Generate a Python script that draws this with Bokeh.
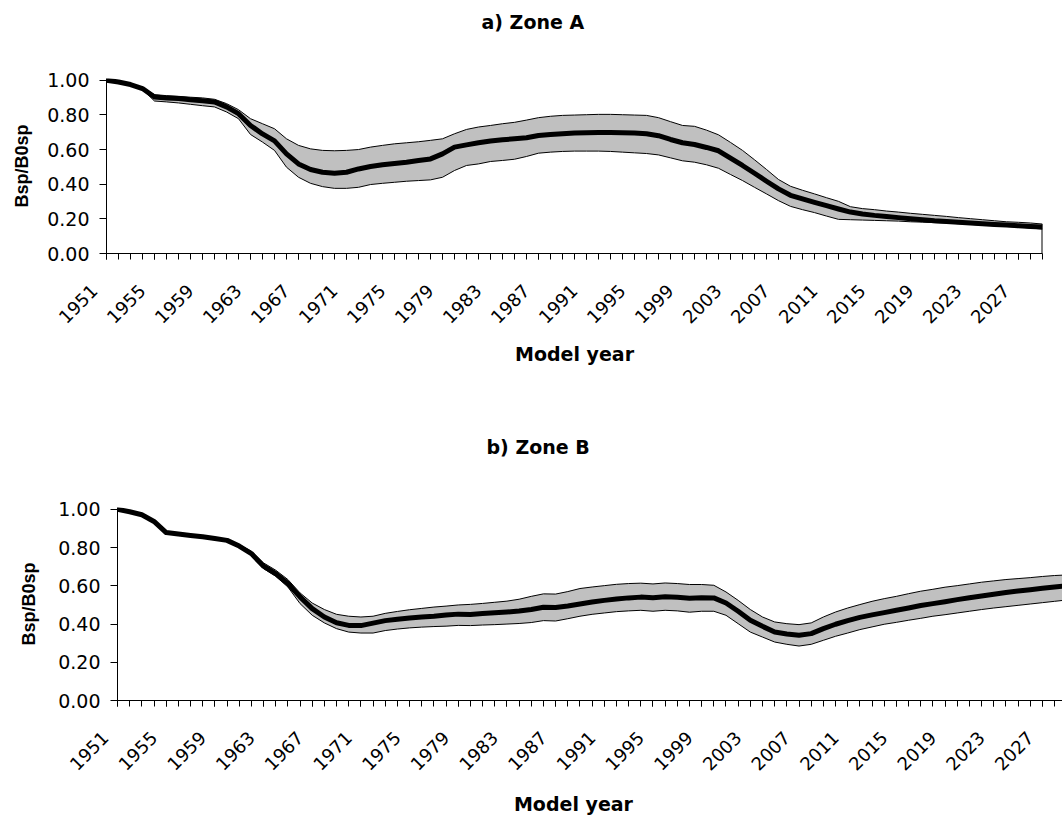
import math
from bokeh.plotting import figure
from bokeh.layouts import column
from bokeh.models import FixedTicker, PrintfTickFormatter, Range1d, LinearAxis
from bokeh.embed import file_html
from bokeh.resources import INLINE

years = list(range(1951, 2030))
tick_years = [1951, 1955, 1959, 1963, 1967, 1971, 1975, 1979, 1983, 1987,
              1991, 1995, 1999, 2003, 2007, 2011, 2015, 2019, 2023, 2027]
y_ticks = [0.0, 0.2, 0.4, 0.6, 0.8, 1.0]

# Zone A (1951-2029)
a_median = [1.000, 0.990, 0.975, 0.952, 0.903, 0.898, 0.894, 0.888, 0.882, 0.875,
            0.846, 0.807, 0.739, 0.690, 0.650, 0.575, 0.517, 0.485, 0.469, 0.463,
            0.469, 0.488, 0.502, 0.512, 0.519, 0.527, 0.537, 0.546, 0.575, 0.614,
            0.627, 0.639, 0.649, 0.656, 0.662, 0.668, 0.681, 0.687, 0.691, 0.695,
            0.697, 0.699, 0.699, 0.697, 0.695, 0.691, 0.680, 0.658, 0.639, 0.629,
            0.612, 0.593, 0.550, 0.508, 0.463, 0.417, 0.373, 0.336, 0.315, 0.295,
            0.276, 0.257, 0.239, 0.228, 0.220, 0.214, 0.207, 0.201, 0.195, 0.189,
            0.185, 0.180, 0.176, 0.172, 0.168, 0.164, 0.160, 0.156, 0.153]
a_upper = [1.000, 0.994, 0.980, 0.957, 0.917, 0.911, 0.907, 0.902, 0.898, 0.890,
           0.865, 0.830, 0.778, 0.749, 0.720, 0.662, 0.624, 0.604, 0.595, 0.593,
           0.595, 0.600, 0.614, 0.624, 0.633, 0.639, 0.645, 0.653, 0.662, 0.691,
           0.716, 0.730, 0.739, 0.749, 0.757, 0.770, 0.784, 0.792, 0.797, 0.799,
           0.801, 0.803, 0.803, 0.801, 0.799, 0.797, 0.784, 0.761, 0.739, 0.734,
           0.712, 0.685, 0.641, 0.595, 0.541, 0.485, 0.427, 0.388, 0.365, 0.344,
           0.322, 0.301, 0.270, 0.259, 0.253, 0.245, 0.239, 0.232, 0.226, 0.220,
           0.214, 0.207, 0.201, 0.195, 0.189, 0.183, 0.180, 0.176, 0.170]
a_lower = [1.000, 0.987, 0.969, 0.946, 0.880, 0.875, 0.869, 0.861, 0.853, 0.846,
           0.817, 0.778, 0.687, 0.643, 0.595, 0.498, 0.440, 0.405, 0.386, 0.376,
           0.376, 0.382, 0.398, 0.405, 0.411, 0.417, 0.421, 0.425, 0.440, 0.479,
           0.508, 0.517, 0.531, 0.537, 0.544, 0.560, 0.579, 0.585, 0.589, 0.591,
           0.591, 0.591, 0.589, 0.585, 0.581, 0.577, 0.569, 0.552, 0.535, 0.527,
           0.512, 0.492, 0.456, 0.421, 0.382, 0.344, 0.305, 0.272, 0.253, 0.236,
           0.216, 0.197, 0.195, 0.193, 0.191, 0.189, 0.187, 0.183, 0.181, 0.178,
           0.176, 0.172, 0.168, 0.164, 0.160, 0.156, 0.153, 0.147, 0.141]

# Zone B (1951-2029)
b_median = [1.000, 0.988, 0.972, 0.937, 0.879, 0.871, 0.864, 0.857, 0.848, 0.838,
            0.808, 0.769, 0.703, 0.664, 0.612, 0.542, 0.481, 0.437, 0.407, 0.393,
            0.392, 0.405, 0.418, 0.425, 0.432, 0.437, 0.441, 0.447, 0.452, 0.450,
            0.455, 0.459, 0.463, 0.468, 0.476, 0.488, 0.487, 0.495, 0.505, 0.515,
            0.524, 0.531, 0.537, 0.541, 0.538, 0.543, 0.540, 0.535, 0.538, 0.537,
            0.510, 0.467, 0.420, 0.388, 0.358, 0.348, 0.341, 0.350, 0.376, 0.399,
            0.418, 0.435, 0.448, 0.460, 0.472, 0.484, 0.497, 0.507, 0.517, 0.528,
            0.538, 0.547, 0.556, 0.565, 0.573, 0.580, 0.587, 0.594, 0.601]
b_upper = [1.000, 0.991, 0.976, 0.942, 0.884, 0.876, 0.869, 0.862, 0.853, 0.843,
           0.816, 0.781, 0.720, 0.682, 0.633, 0.563, 0.510, 0.476, 0.451, 0.441,
           0.437, 0.441, 0.456, 0.466, 0.475, 0.482, 0.489, 0.494, 0.500, 0.503,
           0.508, 0.514, 0.520, 0.530, 0.545, 0.558, 0.557, 0.570, 0.586, 0.594,
           0.601, 0.608, 0.612, 0.614, 0.610, 0.615, 0.612, 0.607, 0.607, 0.603,
           0.568, 0.524, 0.476, 0.437, 0.411, 0.402, 0.397, 0.406, 0.437, 0.463,
           0.484, 0.502, 0.519, 0.533, 0.545, 0.559, 0.572, 0.582, 0.593, 0.601,
           0.610, 0.619, 0.626, 0.633, 0.638, 0.643, 0.649, 0.654, 0.657]
b_lower = [1.000, 0.985, 0.968, 0.932, 0.874, 0.866, 0.859, 0.852, 0.843, 0.833,
           0.801, 0.762, 0.690, 0.650, 0.594, 0.507, 0.446, 0.406, 0.376, 0.358,
           0.353, 0.353, 0.366, 0.374, 0.380, 0.384, 0.387, 0.389, 0.393, 0.392,
           0.395, 0.397, 0.400, 0.403, 0.408, 0.418, 0.416, 0.428, 0.441, 0.451,
           0.458, 0.465, 0.469, 0.472, 0.467, 0.472, 0.469, 0.462, 0.467, 0.467,
           0.446, 0.402, 0.358, 0.332, 0.306, 0.294, 0.285, 0.294, 0.315, 0.336,
           0.353, 0.371, 0.385, 0.399, 0.409, 0.420, 0.430, 0.441, 0.449, 0.458,
           0.467, 0.476, 0.484, 0.491, 0.498, 0.505, 0.512, 0.519, 0.526]

FONT_W = "DejaVu Sans"
FONT_V = "Liberation Sans"
NBSP = "\u00a0"


def make_panel(title, med, up, lo, frame_w, frame_h, mb_left, mb_right, mb_top,
               mb_bottom, x_end, title_offset, title_gap, xlabel_standoff,
               xlabel_pad, ylabel_standoff, close_right):
    p = figure(frame_width=frame_w, frame_height=frame_h, title=title,
               x_range=Range1d(1951, x_end), y_range=Range1d(0, 1.01),
               output_backend="svg", toolbar_location=None,
               min_border_left=mb_left, min_border_right=mb_right,
               min_border_top=mb_top, min_border_bottom=mb_bottom)
    p.frame_align = False
    p.varea(x=years, y1=lo, y2=up, fill_color="#C0C0C0")
    p.line(years, up, color="black", line_width=1)
    p.line(years, lo, color="black", line_width=1)
    p.line(years, med, color="black", line_width=5, line_join="round")
    if close_right:
        p.segment(x0=[years[-1]], y0=[0], x1=[years[-1]], y1=[up[-1]],
                  color="black", line_width=2)

    p.xgrid.visible = False
    p.ygrid.visible = False
    p.outline_line_color = None
    p.background_fill_color = "white"
    p.border_fill_color = "white"

    # x axis (bottom)
    xa = p.below[0]
    xa.ticker = FixedTicker(ticks=tick_years, minor_ticks=years)
    xa.major_label_overrides = {y: str(y) + NBSP * 3 for y in tick_years}
    xa.major_label_orientation = math.pi / 4
    xa.major_label_text_font = FONT_W
    xa.major_label_text_font_size = "18px"
    xa.major_label_text_color = "black"
    xa.major_label_standoff = 16
    xa.major_tick_in = 0
    xa.major_tick_out = 6
    xa.minor_tick_in = 0
    xa.minor_tick_out = 6
    xa.minor_tick_line_color = "black"
    xa.major_tick_line_color = "black"
    xa.axis_line_color = "black"
    xa.axis_label = "Model year" + NBSP * xlabel_pad
    xa.axis_label_text_font = FONT_W
    xa.axis_label_text_font_size = "19px"
    xa.axis_label_text_font_style = "bold"
    xa.axis_label_text_color = "black"
    xa.axis_label_standoff = xlabel_standoff

    # y axis (left)
    ya = p.left[0]
    ya.ticker = FixedTicker(ticks=y_ticks)
    ya.formatter = PrintfTickFormatter(format="%.2f")
    ya.major_label_text_font = FONT_W
    ya.major_label_text_font_size = "19px"
    ya.major_label_text_color = "black"
    ya.major_label_standoff = 10
    ya.major_tick_in = 0
    ya.major_tick_out = 7
    ya.minor_tick_line_color = None
    ya.major_tick_line_color = "black"
    ya.axis_line_color = "black"
    ya.axis_label = "Bsp/B0sp"
    ya.axis_label_text_font = FONT_V
    ya.axis_label_text_font_size = "18px"
    ya.axis_label_text_font_style = "bold"
    ya.axis_label_text_color = "black"
    ya.axis_label_standoff = ylabel_standoff

    # title
    p.title.align = "left"
    p.title.offset = title_offset
    p.title.vertical_align = "bottom"
    p.title.text_font = FONT_W
    p.title.text_font_size = "19px"
    p.title.text_font_style = "bold"
    p.title.text_color = "black"
    p.title.standoff = 10
    # blank spacer between title and frame (one white tick reserves the room)
    spacer = LinearAxis(ticker=FixedTicker(ticks=[], minor_ticks=[years[0]]),
                        axis_line_color=None,
                        major_tick_line_color="white", minor_tick_line_color="white",
                        major_tick_in=0, major_tick_out=title_gap,
                        minor_tick_in=0, minor_tick_out=title_gap,
                        major_label_standoff=0)
    p.add_layout(spacer, "above")
    return p


pa = make_panel("a) Zone A", a_median, a_upper, a_lower, frame_w=936, frame_h=175,
                mb_left=106, mb_right=20, mb_top=78, mb_bottom=127,
                x_end=2029, title_offset=375, title_gap=41, xlabel_standoff=5,
                xlabel_pad=0, ylabel_standoff=12, close_right=True)
pb = make_panel("b) Zone B", b_median, b_upper, b_lower, frame_w=945, frame_h=193,
                mb_left=117, mb_right=0, mb_top=127, mb_bottom=118,
                x_end=2028.65, title_offset=369, title_gap=45, xlabel_standoff=8,
                xlabel_pad=5, ylabel_standoff=16, close_right=False)

layout = column(pa, pb, spacing=0)
open("out.html", "w").write(file_html(layout, INLINE))
